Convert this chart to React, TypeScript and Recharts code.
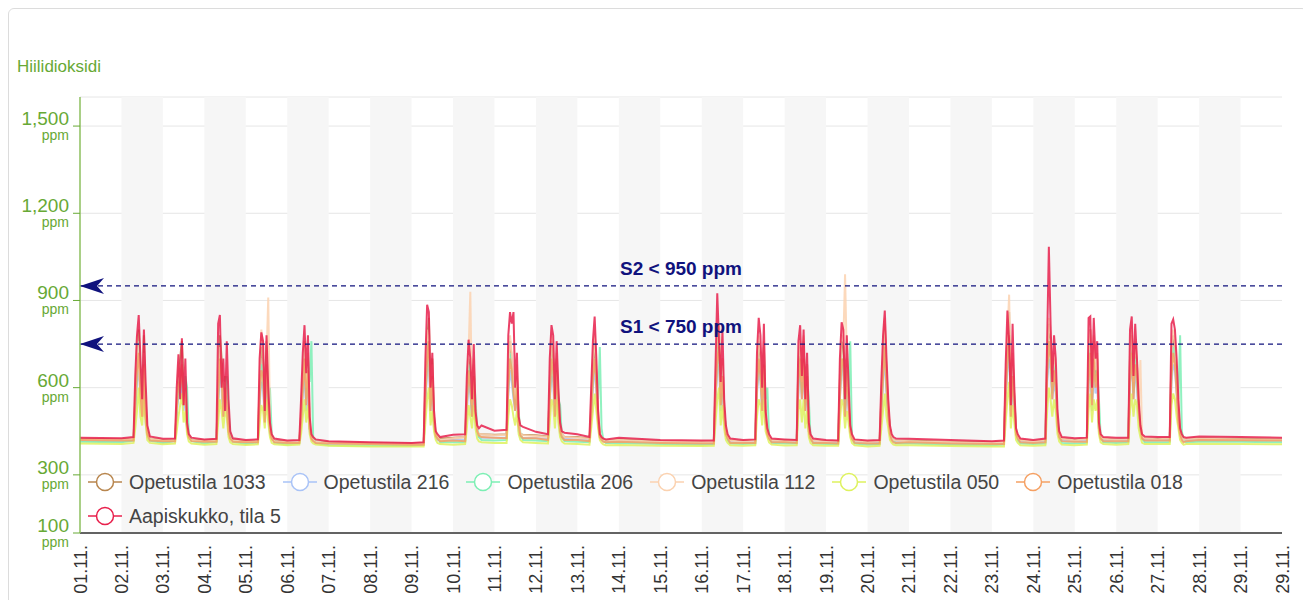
import React from "react";
import {
  LineChart, Line, XAxis, YAxis, CartesianGrid, ReferenceArea, ReferenceLine,
} from "recharts";

// x axis: hours from 01.11. 00:00, one tick per midnight
const dayLabels = [
  "01.11.", "02.11.", "03.11.", "04.11.", "05.11.", "06.11.", "07.11.", "08.11.", "09.11.", "10.11.",
  "11.11.", "12.11.", "13.11.", "14.11.", "15.11.", "16.11.", "17.11.", "18.11.", "19.11.", "20.11.",
  "21.11.", "22.11.", "23.11.", "24.11.", "25.11.", "26.11.", "27.11.", "28.11.", "29.11.", "29.11.",
];
const schoolDays = [1, 2, 3, 4, 5, 8, 9, 10, 11, 12, 15, 16, 17, 18, 19, 22, 23, 24, 25, 26];
const schoolHours = [7, 8, 9, 10, 11, 12, 13, 14, 15, 16.5];
const yTicks = [100, 300, 600, 900, 1200, 1500];
const thresholds = [
  { name: "S2", value: 950 },
  { name: "S1", value: 750 },
];

// midnight readings (01.11. .. 30.11.)
const base1033 = [424, 422, 420, 418, 416, 414, 412, 410, 408, 428, 438, 436, 430, 422, 416, 414, 416, 418, 416, 414, 418, 414, 412, 416, 420, 422, 424, 426, 424, 422];
const base216 = [418, 416, 414, 413, 412, 410, 408, 406, 405, 420, 428, 426, 422, 416, 412, 410, 412, 413, 412, 410, 414, 410, 408, 412, 416, 418, 420, 420, 419, 418];
const base206 = [414, 412, 410, 408, 406, 404, 402, 400, 400, 412, 418, 418, 414, 410, 406, 404, 406, 408, 406, 404, 408, 404, 402, 406, 408, 410, 412, 414, 414, 412];
const base112 = [422, 420, 418, 416, 414, 412, 410, 408, 406, 426, 436, 434, 428, 420, 414, 412, 414, 416, 414, 412, 416, 412, 410, 414, 418, 420, 422, 424, 422, 420];
const base050 = [408, 406, 405, 404, 403, 402, 400, 398, 398, 404, 410, 410, 406, 403, 400, 399, 400, 401, 400, 398, 402, 399, 398, 400, 402, 404, 406, 407, 406, 405];
const base018 = [420, 418, 416, 414, 412, 410, 408, 406, 404, 418, 428, 426, 420, 414, 410, 408, 410, 412, 410, 408, 412, 408, 406, 410, 414, 416, 418, 420, 419, 418];
const baseAapis = [428, 426, 424, 422, 420, 418, 416, 412, 410, 438, 452, 448, 440, 428, 420, 418, 420, 422, 420, 418, 424, 420, 416, 420, 426, 428, 430, 432, 430, 428];

// school day readings at schoolHours
const days1033 = [
  [425, 560, 700, 800, 640, 500, 780, 520, 450, 425], [422, 520, 640, 700, 760, 600, 560, 460, 430, 422],
  [420, 600, 780, 700, 520, 640, 560, 460, 430, 420], [418, 600, 740, 700, 500, 760, 560, 460, 430, 418],
  [416, 500, 640, 760, 560, 700, 460, 430, 420, 416], [410, 600, 760, 840, 560, 700, 480, 440, 430, 425],
  [430, 560, 700, 640, 520, 680, 500, 450, 440, 440], [440, 640, 760, 700, 600, 560, 640, 470, 440, 438],
  [432, 600, 760, 700, 520, 700, 540, 460, 440, 430], [425, 520, 680, 760, 640, 500, 440, 430, 420, 418],
  [415, 600, 760, 820, 560, 700, 520, 450, 430, 418], [418, 640, 760, 700, 560, 740, 500, 450, 430, 420],
  [418, 680, 740, 600, 760, 540, 680, 460, 430, 418], [416, 620, 760, 740, 520, 700, 560, 460, 430, 418],
  [416, 560, 700, 820, 640, 520, 460, 430, 420, 418], [414, 620, 760, 860, 520, 700, 560, 450, 430, 420],
  [420, 700, 820, 760, 600, 700, 640, 480, 440, 425], [424, 700, 800, 560, 760, 640, 700, 460, 430, 425],
  [424, 700, 780, 600, 740, 680, 540, 460, 430, 426], [426, 700, 780, 740, 640, 520, 450, 430, 420, 424],
];
const days216 = [
  [420, 520, 620, 660, 580, 500, 600, 480, 430, 420], [418, 500, 600, 560, 640, 520, 580, 450, 425, 418],
  [416, 560, 660, 600, 500, 580, 520, 440, 425, 416], [415, 540, 620, 600, 480, 640, 520, 440, 425, 415],
  [414, 480, 580, 640, 520, 600, 450, 425, 418, 414], [408, 540, 660, 700, 520, 600, 460, 430, 420, 418],
  [420, 520, 620, 580, 500, 600, 480, 440, 430, 428], [428, 580, 660, 620, 560, 520, 580, 450, 430, 428],
  [424, 560, 640, 620, 500, 620, 500, 440, 430, 424], [420, 500, 600, 680, 580, 480, 430, 420, 416, 414],
  [412, 560, 660, 700, 520, 620, 500, 440, 425, 414], [414, 580, 660, 620, 520, 640, 480, 440, 425, 415],
  [414, 600, 660, 560, 660, 520, 600, 450, 425, 414], [412, 560, 680, 660, 500, 620, 520, 450, 425, 414],
  [412, 520, 620, 700, 580, 500, 440, 425, 416, 414], [410, 560, 660, 740, 500, 620, 520, 440, 425, 414],
  [414, 620, 700, 660, 560, 620, 580, 460, 430, 418], [418, 620, 680, 520, 660, 580, 620, 450, 425, 418],
  [418, 620, 680, 560, 660, 600, 500, 450, 425, 420], [420, 620, 680, 660, 580, 480, 440, 425, 416, 418],
];
const days206 = [
  [418, 520, 640, 760, 600, 520, 700, 560, 450, 418], [416, 500, 620, 580, 700, 540, 640, 600, 440, 416],
  [414, 540, 700, 620, 520, 600, 640, 520, 440, 414], [412, 560, 680, 640, 500, 700, 560, 600, 440, 412],
  [410, 480, 620, 700, 560, 680, 620, 760, 430, 410], [404, 560, 700, 760, 540, 640, 500, 440, 430, 412],
  [412, 540, 680, 620, 500, 660, 560, 460, 430, 420], [420, 600, 720, 680, 580, 540, 620, 520, 440, 420],
  [416, 560, 700, 660, 520, 680, 560, 540, 430, 416], [412, 520, 640, 700, 620, 560, 740, 460, 420, 410],
  [406, 560, 720, 740, 540, 660, 520, 460, 420, 408], [408, 600, 700, 660, 540, 700, 560, 600, 430, 410],
  [408, 620, 700, 580, 720, 540, 640, 560, 430, 408], [406, 580, 700, 680, 520, 660, 580, 760, 430, 408],
  [406, 520, 660, 740, 600, 520, 460, 430, 418, 408], [404, 580, 700, 780, 520, 660, 560, 460, 420, 408],
  [408, 640, 760, 700, 580, 680, 600, 500, 430, 410], [410, 640, 740, 560, 700, 620, 660, 560, 430, 412],
  [412, 640, 720, 580, 700, 640, 520, 480, 425, 412], [412, 660, 740, 700, 620, 560, 780, 450, 420, 412],
];
const days112 = [
  [424, 600, 780, 700, 560, 500, 720, 540, 440, 424], [420, 560, 680, 620, 700, 540, 600, 460, 430, 420],
  [418, 620, 740, 640, 520, 620, 540, 450, 428, 418], [416, 640, 800, 740, 520, 700, 910, 480, 430, 416],
  [414, 520, 640, 760, 600, 720, 480, 430, 420, 414], [408, 640, 800, 760, 560, 680, 500, 440, 430, 420],
  [430, 600, 720, 930, 540, 700, 500, 450, 440, 440], [438, 660, 780, 720, 640, 560, 680, 480, 440, 436],
  [430, 620, 780, 740, 540, 720, 560, 460, 440, 430], [424, 560, 700, 780, 660, 520, 440, 430, 420, 418],
  [414, 640, 800, 820, 580, 700, 520, 450, 430, 418], [418, 660, 780, 720, 560, 760, 520, 450, 430, 420],
  [418, 700, 760, 620, 780, 560, 680, 460, 430, 418], [416, 640, 780, 760, 990, 700, 580, 460, 430, 418],
  [416, 580, 720, 840, 660, 540, 460, 430, 420, 418], [414, 640, 780, 920, 540, 720, 580, 450, 430, 420],
  [420, 700, 840, 780, 620, 720, 660, 480, 440, 425], [424, 720, 800, 580, 780, 660, 720, 480, 430, 425],
  [424, 720, 800, 620, 760, 700, 560, 695, 430, 426], [426, 720, 800, 760, 660, 540, 450, 430, 420, 424],
];
const days050 = [
  [410, 460, 520, 600, 500, 470, 560, 480, 420, 410], [408, 450, 500, 540, 580, 480, 520, 440, 415, 408],
  [406, 480, 560, 520, 460, 520, 500, 430, 412, 406], [405, 470, 540, 520, 460, 560, 480, 430, 410, 405],
  [404, 440, 500, 560, 480, 540, 440, 415, 408, 404], [398, 480, 560, 600, 470, 520, 450, 420, 410, 406],
  [406, 460, 540, 500, 460, 540, 460, 425, 415, 412], [410, 500, 560, 540, 500, 470, 520, 440, 420, 412],
  [408, 480, 560, 540, 460, 560, 480, 430, 415, 408], [404, 460, 520, 580, 520, 460, 420, 410, 405, 402],
  [400, 480, 560, 600, 470, 540, 460, 420, 410, 402], [402, 500, 560, 540, 470, 560, 450, 430, 412, 404],
  [402, 520, 560, 480, 560, 460, 520, 430, 410, 402], [400, 480, 560, 540, 460, 520, 480, 430, 410, 402],
  [400, 460, 520, 580, 500, 460, 420, 410, 404, 402], [398, 480, 560, 620, 460, 540, 480, 420, 410, 402],
  [402, 520, 600, 560, 500, 560, 520, 440, 415, 404], [404, 520, 580, 480, 560, 520, 560, 440, 412, 406],
  [406, 520, 580, 500, 560, 540, 460, 430, 410, 406], [406, 540, 580, 560, 500, 460, 420, 410, 404, 406],
];
const days018 = [
  [418, 540, 660, 720, 580, 500, 680, 500, 440, 418], [416, 520, 620, 600, 680, 540, 600, 460, 430, 416],
  [414, 560, 700, 640, 500, 600, 540, 450, 425, 414], [412, 560, 660, 640, 480, 680, 540, 450, 425, 412],
  [410, 480, 600, 700, 540, 660, 460, 425, 416, 410], [404, 560, 700, 760, 520, 640, 480, 435, 425, 416],
  [416, 540, 660, 600, 500, 640, 500, 450, 435, 430], [426, 600, 700, 660, 580, 520, 600, 470, 435, 426],
  [420, 560, 700, 660, 500, 660, 540, 450, 430, 420], [416, 500, 640, 700, 600, 480, 430, 420, 414, 412],
  [408, 560, 700, 740, 540, 640, 500, 440, 425, 410], [410, 600, 700, 640, 520, 680, 480, 440, 425, 412],
  [410, 620, 700, 560, 700, 520, 640, 450, 425, 410], [408, 560, 700, 680, 500, 660, 540, 450, 425, 410],
  [408, 520, 640, 740, 600, 500, 440, 420, 412, 410], [406, 560, 700, 780, 500, 640, 540, 440, 425, 412],
  [412, 640, 760, 700, 560, 660, 600, 470, 430, 416], [414, 620, 720, 540, 700, 600, 660, 460, 425, 416],
  [416, 620, 720, 560, 680, 640, 520, 460, 425, 418], [418, 640, 720, 680, 580, 480, 440, 420, 412, 416],
];
const daysAapis = [
  [430, 640, 780, 850, 700, 560, 800, 620, 470, 432], [425, 600, 715, 560, 770, 540, 700, 480, 440, 428],
  [424, 820, 850, 600, 700, 520, 760, 560, 450, 426], [422, 700, 790, 760, 520, 780, 600, 480, 440, 425],
  [420, 560, 720, 815, 650, 780, 500, 440, 430, 422], [412, 700, 885, 860, 600, 720, 520, 450, 440, 430],
  [440, 640, 765, 700, 560, 750, 520, 470, 460, 470], [455, 780, 860, 820, 860, 600, 720, 500, 470, 465],
  [440, 700, 815, 780, 560, 760, 600, 480, 450, 445], [430, 600, 760, 845, 700, 520, 440, 430, 425, 422],
  [418, 680, 925, 760, 620, 800, 560, 470, 440, 425], [422, 720, 840, 780, 600, 820, 520, 460, 440, 425],
  [420, 760, 815, 640, 800, 560, 720, 480, 440, 425], [418, 700, 825, 800, 560, 780, 620, 470, 440, 422],
  [420, 620, 780, 865, 700, 560, 470, 440, 430, 425], [418, 680, 865, 760, 540, 820, 600, 460, 440, 425],
  [425, 760, 1085, 820, 620, 780, 700, 520, 450, 430], [428, 840, 845, 600, 840, 700, 760, 480, 440, 430],
  [428, 800, 845, 640, 820, 700, 560, 470, 440, 432], [430, 820, 835, 800, 700, 560, 460, 440, 430, 428],
];

const series = [
  { name: "Opetustila 1033", color: "#b8864e", base: base1033, days: days1033, width: 2 },
  { name: "Opetustila 216", color: "#a9c3f7", base: base216, days: days216, width: 2 },
  { name: "Opetustila 206", color: "#7cefb4", base: base206, days: days206, width: 2 },
  { name: "Opetustila 112", color: "#fbd2b0", base: base112, days: days112, width: 2 },
  { name: "Opetustila 050", color: "#def25e", base: base050, days: days050, width: 2 },
  { name: "Opetustila 018", color: "#f5a063", base: base018, days: days018, width: 2 },
  { name: "Aapiskukko, tila 5", color: "#e8204c", base: baseAapis, days: daysAapis, width: 2 },
];

const buildPoints = (base: number[], days: number[][]) => {
  const pts: { t: number; v: number }[] = [];
  base.forEach((v, d) => {
    pts.push({ t: d * 24, v });
    const k = schoolDays.indexOf(d);
    if (k >= 0) days[k].forEach((val, i) => pts.push({ t: d * 24 + schoolHours[i], v: val }));
  });
  return pts;
};

const dayTicks = dayLabels.map((_, i) => i * 24);
const bands = dayTicks.filter((_, i) => i % 2 === 1 && i < dayTicks.length - 1);

const green = "#67a935";
const navy = "#10127d";
const font = "'Liberation Sans', Arial, sans-serif";

const XTick = (props: any) => {
  const { x, y, index } = props;
  const ax = x + 6.5;
  const ay = y + 4;
  return (
    <text x={ax} y={ay} transform={`rotate(-90 ${ax} ${ay})`} textAnchor="end" fontSize={18} fill="#333" fontFamily={font}>
      {dayLabels[index]}
    </text>
  );
};

const YTick = (props: any) => {
  const { x, y, payload } = props;
  return (
    <g fontFamily={font} fill={green}>
      <text x={x} y={y - 1} textAnchor="end" fontSize={19}>{payload.value.toLocaleString("en-US")}</text>
      <text x={x} y={y + 14} textAnchor="end" fontSize={14}>ppm</text>
    </g>
  );
};

const ThresholdLabel = (name: string, value: number) => (props: any) => {
  const { viewBox } = props;
  const { x, y, width } = viewBox;
  return (
    <g>
      <path d={`M${x},${y} L${x + 24},${y - 8} L${x + 17},${y} L${x + 24},${y + 8} Z`} fill={navy} />
      <text x={x + width / 2} y={y - 11} textAnchor="middle" fontSize={19} fontWeight="bold" fill={navy} fontFamily={font}>
        {`${name} < ${value} ppm`}
      </text>
    </g>
  );
};

const LegendBox = () => (
  <div style={{ display: "flex", flexWrap: "wrap", width: 1150, fontFamily: font, fontSize: 19.5, color: "#444" }}>
    {series.map((s) => (
      <div key={s.name} style={{ display: "flex", alignItems: "center", height: 34, marginRight: 17 }}>
        <svg width={34} height={20} style={{ marginRight: 7 }}>
          <line x1={0} y1={10} x2={34} y2={10} stroke={s.color} strokeWidth={1.5} />
          <circle cx={17} cy={10} r={8.5} fill="#fff" stroke={s.color} strokeWidth={1.5} />
        </svg>
        <span>{s.name}</span>
      </div>
    ))}
  </div>
);

export default function App() {
  return (
    <div style={{ position: "relative", width: 1300, height: 600 }}>
      <div style={{ position: "absolute", left: 0, top: 0, width: 1298, height: 620, border: "1px solid #dcdcdc", borderRadius: 6 }} />
      <div style={{ position: "absolute", left: 9, top: 50, fontFamily: font, fontSize: 17, lineHeight: "17px", color: green }}>
        Hiilidioksidi
      </div>
      <div style={{ position: "absolute", left: 0, top: 0 }}>
        <LineChart width={1300} height={592} margin={{ top: 89, right: 26, bottom: 7, left: 0 }}>
          {bands.map((t) => (
            <ReferenceArea key={t} x1={t} x2={t + 24} fill="#f6f6f6" fillOpacity={1} stroke="none" />
          ))}
          <CartesianGrid vertical={false} stroke="#e6e6e6" />
          <XAxis
            dataKey="t"
            type="number"
            domain={[0, 696]}
            ticks={dayTicks}
            interval={0}
            tick={<XTick />}
            tickLine={false}
            axisLine={{ stroke: "#333", strokeWidth: 1.5 }}
            height={60}
            allowDuplicatedCategory={false}
          />
          <YAxis
            type="number"
            domain={[100, 1600]}
            ticks={yTicks}
            interval={0}
            width={72}
            tick={<YTick />}
            tickSize={7}
            tickMargin={4}
            tickLine={{ stroke: green }}
            axisLine={{ stroke: "#8cbf5e", strokeWidth: 1.5 }}
          />
          {series.map((s) => (
            <Line
              key={s.name}
              name={s.name}
              data={buildPoints(s.base, s.days)}
              dataKey="v"
              type="linear"
              stroke={s.color}
              strokeWidth={s.width}
              strokeOpacity={0.85}
              dot={false}
              activeDot={false}
              isAnimationActive={false}
            />
          ))}
          {thresholds.map((th) => (
            <ReferenceLine
              key={th.name}
              y={th.value}
              stroke={navy}
              strokeWidth={1.3}
              strokeDasharray="5 4"
              label={ThresholdLabel(th.name, th.value)}
            />
          ))}
        </LineChart>
      </div>
      <div style={{ position: "absolute", left: 80, top: 457 }}>
        <LegendBox />
      </div>
    </div>
  );
}
